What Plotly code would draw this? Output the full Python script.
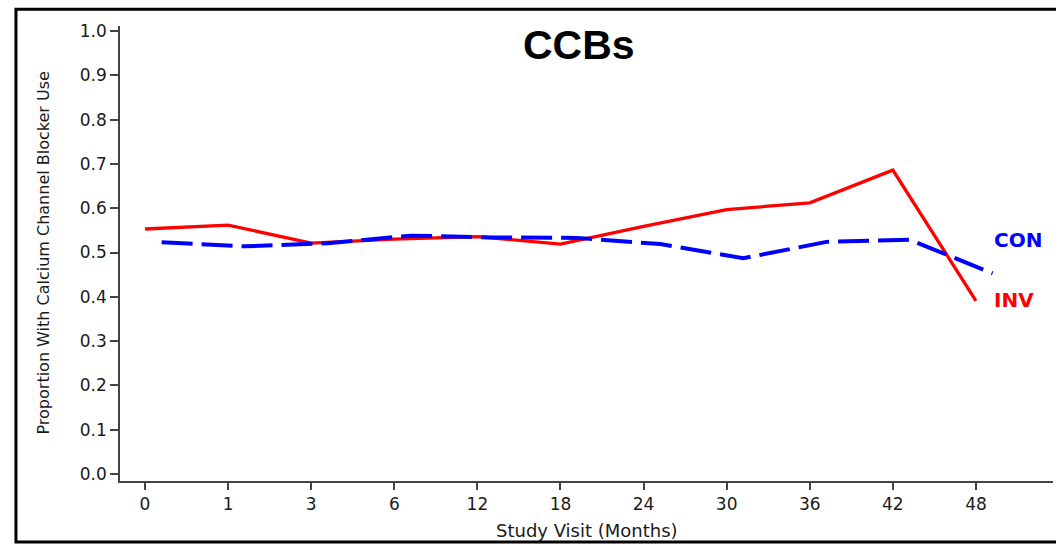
import plotly.graph_objects as go

# Study visits (months) and proportion of participants using calcium channel blockers
visits = ["0", "1", "3", "6", "12", "18", "24", "30", "36", "42", "48"]
inv_values = [0.553, 0.562, 0.521, 0.530, 0.536, 0.519, 0.559, 0.597, 0.612, 0.686, 0.391]
con_values = [0.523, 0.514, 0.521, 0.538, 0.534, 0.533, 0.519, 0.487, 0.524, 0.529, 0.453]
y_ticks = [0.0, 0.1, 0.2, 0.3, 0.4, 0.5, 0.6, 0.7, 0.8, 0.9, 1.0]

positions = list(range(len(visits)))
con_shift = 0.2  # CON series drawn slightly to the right of each visit
con_positions = [p + con_shift for p in positions]

fig = go.Figure()
fig.add_trace(go.Scatter(
    x=positions, y=inv_values, mode="lines", name="INV",
    line=dict(color="#ff0000", width=3.3),
))
fig.add_trace(go.Scatter(
    x=con_positions, y=con_values, mode="lines", name="CON",
    line=dict(color="#0000ff", width=4, dash="31px,9px"),
))

tick_font = dict(family="DejaVu Sans", size=17, color="#1a1a1a")
axis_col = "#444444"

fig.update_layout(
    width=1056, height=544,
    margin=dict(l=120, r=3, t=26, b=63),
    paper_bgcolor="white", plot_bgcolor="white",
    showlegend=False,
    xaxis=dict(
        range=[-0.301, 10.927],
        tickmode="array", tickvals=positions, ticktext=visits,
        showgrid=False, zeroline=False,
        showline=True, linecolor=axis_col, linewidth=1.5,
        ticks="outside", ticklen=7, tickwidth=1.5, tickcolor=axis_col,
        tickfont=tick_font,
    ),
    yaxis=dict(
        range=[-0.0158, 1.0113],
        tickmode="array", tickvals=y_ticks,
        ticktext=[f"{v:.1f}" for v in y_ticks],
        showgrid=False, zeroline=False,
        showline=True, linecolor=axis_col, linewidth=1.5,
        ticks="outside", ticklen=8, tickwidth=1.5, tickcolor=axis_col,
        tickfont=tick_font,
    ),
    shapes=[dict(
        type="rect", xref="paper", yref="paper",
        x0=-0.1115, x1=1.1, y0=-0.134, y1=1.037,
        line=dict(color="black", width=3), fillcolor="rgba(0,0,0,0)",
        layer="above",
    )],
    annotations=[
        dict(text="<b>CCBs</b>", xref="paper", yref="paper", x=0.492, y=0.958,
             xanchor="center", yanchor="middle", showarrow=False,
             font=dict(family="Liberation Sans", size=41, color="black")),
        dict(text="<b>CON</b>", xref="paper", yref="paper", x=0.9345, y=0.5297,
             xanchor="left", yanchor="middle", showarrow=False,
             font=dict(family="DejaVu Sans", size=20, color="#0000ff")),
        dict(text="<b>INV</b>", xref="paper", yref="paper", x=0.9345, y=0.3978,
             xanchor="left", yanchor="middle", showarrow=False,
             font=dict(family="DejaVu Sans", size=20, color="#ff0000")),
        dict(text="Proportion With Calcium Channel Blocker Use", xref="paper", yref="paper",
             x=-0.0825, y=0.5, xanchor="center", yanchor="middle", textangle=-90,
             showarrow=False, font=dict(family="DejaVu Sans", size=16, color="#1a1a1a")),
        dict(text="Study Visit (Months)", xref="paper", yref="paper",
             x=0.5005, y=-0.109, xanchor="center", yanchor="middle",
             showarrow=False, font=dict(family="DejaVu Sans", size=18, color="#1a1a1a")),
    ],
)

fig.write_html("out.html")
